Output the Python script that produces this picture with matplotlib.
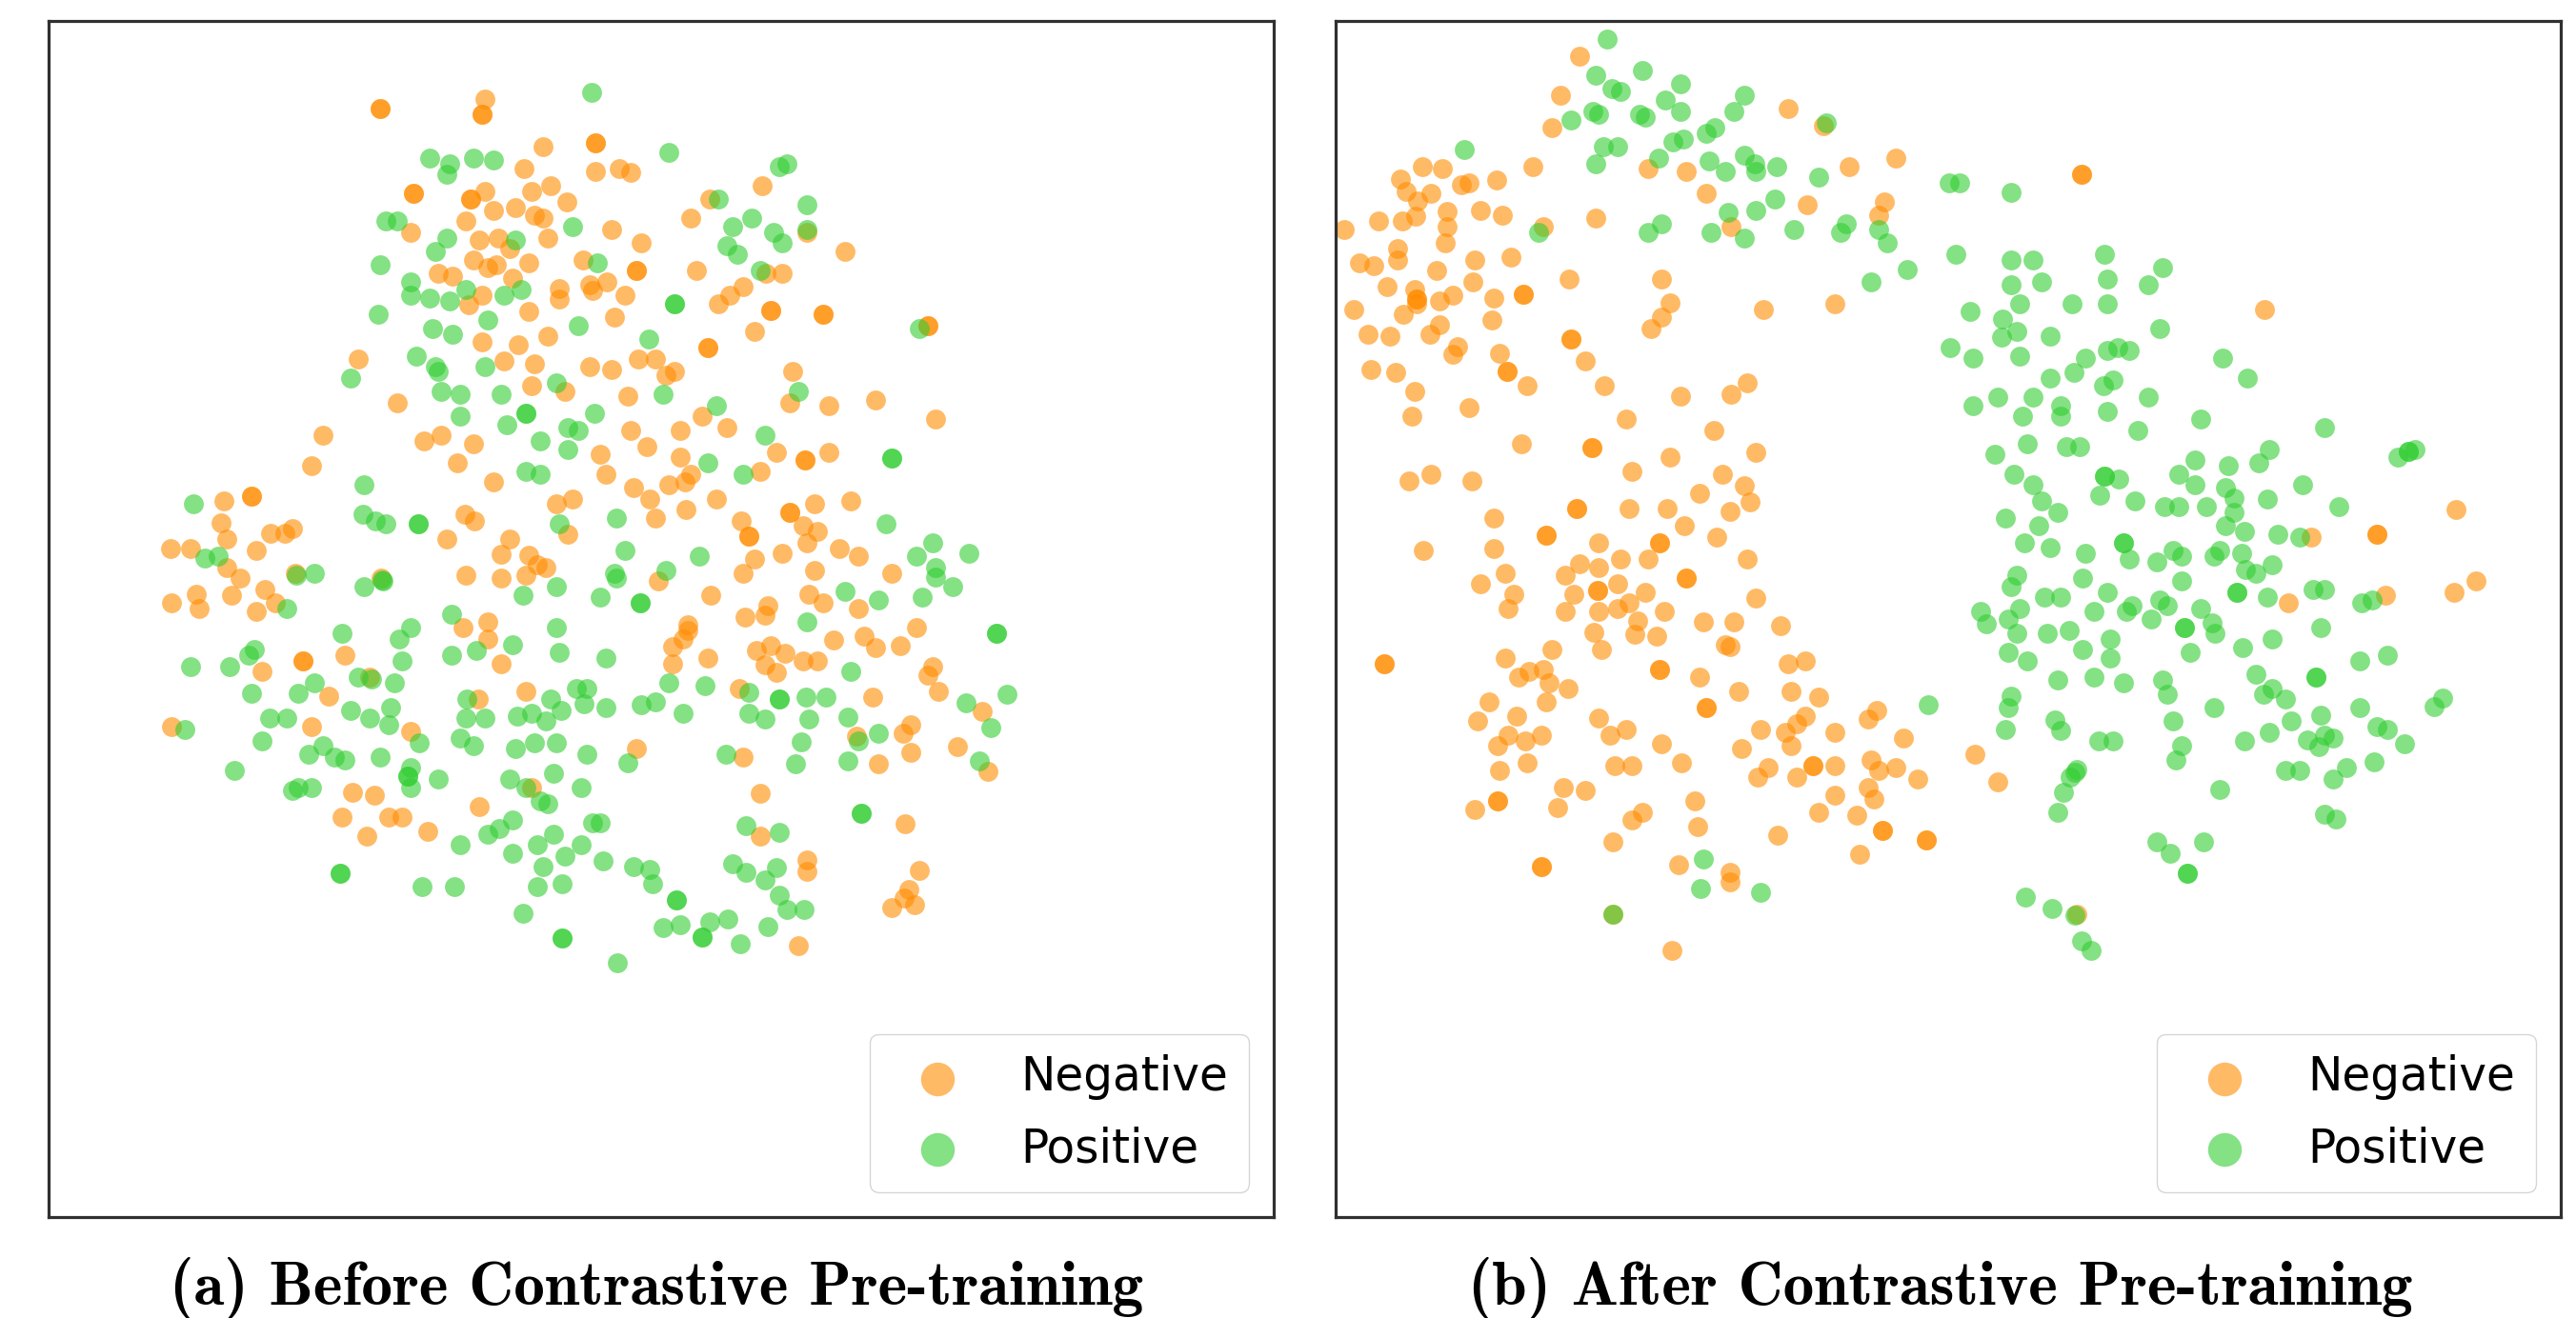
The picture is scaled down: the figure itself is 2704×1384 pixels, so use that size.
"""t-SNE style scatter, before / after contrastive pre-training.
Points were read off magnified crops, so each list is in the pixels of its crop;
to_px() brings them to a common coordinate system (full picture pixels).
"""
import numpy as np
import matplotlib
matplotlib.use("Agg")
import matplotlib.pyplot as plt

W, H = 2704, 1384
labels = ["Negative", "Positive"]
titles = ["(a) Before Contrastive Pre-training", "(b) After Contrastive Pre-training"]

# ---- panel (a), crop 1 ----
a1_neg = [(842,245),(842,245),(1107,220),(1100,260),(1100,260),(1255,351),(1386,340),(1386,340),(1205,411),(1386,418),
 (1447,410),(1476,420),(926,479),(926,479),(1072,493),(1072,493),(1107,472),(1226,472),(1273,457),(1315,501),
 (1129,525),(1185,517),(1232,538),(1255,546),(1059,554),(919,585),(1427,577),(1092,607),(1142,600),(1267,600),
 (1170,630),(1503,615),(1079,661),(1114,682),(1135,674),(1218,668),(1356,660),(1491,689),(1491,689),(989,697),
 (1024,705),(1177,712),(1415,720),(1372,728),(1380,745),(1296,740),(1296,768),(1101,757),(1065,783),(1461,757),
 (1218,803),(1435,818),(1100,886),(1191,893),(1267,870),(1156,939),(1232,946),(1372,953),(1427,961),(1496,932),
 (1540,932),(786,932),(884,1052),(1226,1006),(1310,1021),(1468,1036),(1476,1128),(995,1143),(952,1158),(1079,1165),
 (1517,1173),(1398,1195),(1036,1218),(1413,1248),(1129,1271),(1483,1285),(697,1143),(668,1226),(1288,1330),(1330,1316),
 (1525,1316),(1540,1368),(1057,1360),(1080,1376),(1316,1414),(1010,1428),(1170,1428),(1147,1468),(1218,1472),(1240,1496),
 (1262,1505),(1059,1527),(1147,1535),(1211,1527),(515,1308),(515,1308),(446,1323),(439,1383),(620,1397),(564,1412),
 (600,1412),(453,1428),(312,1452),(362,1452),(529,1458),(453,1505),(487,1535),(628,1520),(843,1535)]
a1_pos = [(1378,200),(967,381),(1017,396),(1010,427),(1079,381),(1129,388),(857,554),(884,554),(1010,600),(982,638),
 (1185,605),(1329,570),(842,675),(1392,668),(919,720),(919,758),(967,766),(1017,773),(1059,742),(1156,757),
 (1198,742),(836,811),(1114,826),(974,849),(1024,865),(1343,841),(1523,878),(933,924),(982,953),(990,968),
 (1107,953),(767,984),(1288,999),(995,1021),(1045,1029),(1148,1029),(1385,1082),(1045,1089),(1212,1082),(1212,1082),
 (1162,1113),(1316,1120),(1343,1128),(1247,1158),(1316,1180),(1212,1240),(1247,1248),(800,1278),(798,1360),(830,1376),
 (857,1385),(938,1385),(938,1385),(1296,1385),(1441,1368),(1461,1458),(1435,1520),(1440,1535),(675,1520),(630,1525),
 (369,1330),(397,1480),(432,1473),(847,1538)]

# ---- panel (a), crop 2 ----
a2_neg = [(286,457),(155,493),(108,547),(491,637),(121,690),(295,697),(335,697),(238,735),(205,757),(176,780),
 (306,800),(306,800),(437,811),(437,811),(699,841),(699,841),(266,856),(150,901),(150,901),(361,968),
 (45,976),(67,968),(353,1052),(451,1060),(568,1044),(135,1089),(718,1097),(80,1128),(197,1120),(320,1188),
 (451,1188),(392,1210),(392,1210),(80,1202),(280,1240),(108,1248),(93,1270),(52,1278),(416,1330),(505,1323),
 (170,1316),(95,1345),(353,1353),(353,1353),(232,1376),(387,1390),(423,1405),(252,1420),(252,1420),(396,1437),
 (477,1452),(526,1474),(334,1466),(266,1481),(237,1520),(416,1512),(608,1520),(397,585)]
a2_pos = [(52,365),(327,404),(347,396),(176,493),(397,509),(259,547),(211,570),(313,585),(397,578),(335,615),
 (197,622),(224,645),(280,690),(67,781),(67,781),(678,849),(375,1021),(38,1029),(170,1060),(292,1143),
 (608,1205),(608,1205),(150,1218),(238,1248),(594,1384),(711,1437),(128,1474),(670,1474),(800,1466),(718,1505),
 (718,1530),(45,1512)]

# ---- panel (a), crop 3 ----
a3_neg = [(72,99),(135,72),(142,117),(225,75),(309,57),(335,99),(288,126),(1305,30),(1438,75),(1525,143),
 (1380,168),(1380,185),(1368,213),(1340,238),(1340,292),(1430,273),(810,177),(873,158),(873,213),(907,290),
 (511,264),(405,281),(405,281),(301,315),(573,333),(470,394),(970,378),(848,402),(1511,368),(72,488),
 (427,489),(678,505),(1250,558),(1520,585),(531,697),(587,705),(985,680),(851,741),(504,773),(622,773),
 (657,773),(720,818),(567,835)]
a3_pos = [(560,47),(607,30),(1047,47),(963,75),(1158,82),(1260,99),(1260,99),(364,117),(782,135),(504,195),
 (678,177),(650,213),(1047,177),(1053,254),(782,264),(845,248),(936,230),(1172,273),(281,245),(268,265),
 (121,299),(219,299),(657,281),(545,333),(580,340),(637,350),(433,350),(274,385),(392,385),(1331,350),
 (1423,360),(1097,368),(1125,368),(1533,382),(820,402),(1117,418),(1033,402),(1060,437),(1172,428),(1262,420),
 (1298,410),(1368,447),(525,437),(573,463),(628,428),(622,482),(322,463),(364,463),(107,497),(817,463),
 (866,463),(947,456),(985,447),(1020,472),(1533,447),(301,533),(803,525),(838,548),(699,540),(943,557),
 (992,540),(1047,540),(1123,576),(1228,603),(1477,576),(456,548),(420,576),(484,585),(512,594),(601,585),
 (232,627),(678,618),(670,645),(670,645),(678,680),(748,654),(928,654),(1040,636),(970,682),(1109,680),
 (378,690),(392,682),(427,680),(1005,722),(1026,732),(936,782),(903,810),(872,827),(1138,792),(1158,792),
 (1527,800),(1040,827),(999,861),(803,861),(1109,861),(936,888),(1068,897),(1165,913),(1012,930),(1241,930),
 (1284,938),(1492,922),(1527,948),(1290,984),(499,952),(499,952),(707,992),(789,992),(999,992),(1061,984),
 (1350,1035),(1350,1035),(963,1077),(1317,1122),(1361,1113),(1436,1104),(1480,1095),(1415,1152),(1415,1152),(1513,1173),
 (1061,1155),(1061,1155),(1200,1233)]

# ---- panel (a), crop 4 ----
a4_neg = [(72,72),(65,92),(193,48),(235,65),(340,78),(267,143),(355,136),(388,160),(461,155),(510,118),
 (40,165),(80,155),(122,171),(65,195),(97,212),(177,188),(218,188),(558,200),(543,218),(574,252),
 (380,263),(703,293),(492,322),(470,340),(334,345),(630,368),(492,380),(398,404),(720,420),(50,466),
 (50,555),(477,530),(188,606),(188,630),(518,628),(486,668),(472,685),(436,705),(503,700),(162,785)]
a4_pos = [(300,42),(398,60),(526,53),(616,32),(188,106),(745,130),(745,130),(316,210),(105,268),(105,268),
 (186,263),(243,263),(776,257),(655,275),(65,310),(194,310),(308,305),(727,327),(398,340),(340,355),
 (170,357),(154,404),(308,398),(695,397),(347,508),(347,508),(105,548),(98,622),(63,647),(105,680),
 (128,710),(180,710),(73,745)]

# ---- panel (b), crop 5 ----
b5_neg = [(613,127),(565,234),(544,323),(1133,271),(1222,320),(497,430),(222,430),(270,437),(167,465),(180,498),
 (242,505),(318,482),(338,475),(406,467),(210,525),(204,567),(172,581),(111,581),(283,555),(283,595),
 (366,551),(420,565),(25,603),(278,641),(523,595),(654,573),(160,655),(160,687),(63,695),(99,702),
 (351,687),(443,680),(256,716),(784,437),(880,445),(929,505),(1285,430),(1401,407),(1181,535),(1373,527),
 (1360,565),(990,597),(586,739),(818,739),(346,747),(133,761),(203,768),(207,795),(207,795),(207,808),
 (297,783),(263,799),(400,792),(473,780),(473,780),(173,837),(50,822),(394,852),(838,806),(818,843),
 (791,875),(1072,822),(1250,808),(263,865),(241,890),(85,890),(139,897),(591,905),(591,905),(310,925),
 (296,945),(413,942),(432,992),(432,992),(627,965),(92,987),(154,995),(482,1033),(674,1033),(202,1048),
 (866,1062),(990,1055),(1031,1025),(338,1092),(195,1116),(729,1123),(948,1154),(469,1192),(643,1203),(643,1203),
 (838,1229),(1052,1214),(743,1267),(969,1274),(242,1274)]
b5_pos = [(682,82),(654,180),(770,166),(693,218),(716,226),(866,203),(1024,234),(826,248),(997,279),(866,279),
 (592,302),(647,279),(661,287),(763,287),(777,295),(1228,310),(950,323),(929,340),(846,362),(873,355),
 (325,384),(672,376),(709,376),(811,407),(654,422),(935,415),(1024,400),(976,445),(1051,422),(1052,445),
 (1106,430),(1210,460),(1100,520),(1052,551),(984,557),(818,587),(784,611),(942,611),(1023,627),(1147,603),
 (1278,587),(1264,611),(1360,603),(1381,641),(511,611),(1340,747),(1535,475),(1560,475)]
# two overlaid points right of crop 5 (full pixels)
b_extra_neg = [(2185,183),(2185,183)]

# ---- panel (b), crop 6 ----
b6_neg = [(895,326),(1374,875),(1176,943),(1176,943),(1013,950),(1423,1071),(1368,1103),(1197,1110),(956,1131)]
b6_pos = [(263,5),(126,175),(263,190),(319,190),(497,175),(641,211),(5,218),(263,258),(339,250),(503,243),
 (606,258),(285,311),(415,311),(503,311),(161,333),(243,354),(278,387),(241,402),(360,400),(634,379),
 (112,431),(168,461),(285,455),(503,439),(530,431),(558,439),(449,461),(791,461),(421,498),(360,515),
 (853,515),(518,521),(495,536),(230,566),(168,590),(318,566),(387,590),(387,619),(292,619),(503,605),
 (606,566),(579,658),(737,627),(1046,650),(305,695),(401,703),(435,703),(223,724),(908,710),(723,740),
 (881,747),(805,755),(1229,732),(1255,716),(1255,716),(1272,710),(270,778),(682,778),(497,785),(497,785),
 (532,793),(318,807),(723,807),(798,815),(990,807),(484,837),(339,853),(379,883),(572,853),(647,867),
 (681,867),(751,867),(820,845),(820,883),(902,846),(1080,867),(249,898),(332,920),(798,921),(846,935),
 (929,942),(984,950),(297,966),(545,966),(545,966),(360,981),(449,996),(667,989),(689,1004),(785,989),
 (771,1004),(839,996),(558,1012),(627,1018),(914,1026),(278,1055),(263,1087),(848,1041),(874,1050),(442,1063),
 (689,1071),(827,1102),(827,1102),(1017,1094),(1046,1094),(503,1103),(346,1117),(388,1117),(902,1117),(1165,1124),
 (1138,1132),(187,1155),(285,1146),(257,1177),(202,1188),(470,1155),(565,1139),(551,1155),(634,1124),(654,1139),
 (737,1146),(613,1177),(765,1185),(1037,1199),(278,1215),(353,1215),(408,1207),(696,1199),(696,1199),(772,1215),
 (914,1230),(511,1230),(442,1260),(840,1253),(710,1268),(256,1268),(305,1290),(511,1283),(1203,1275),(1133,1290),
 (380,1343),(470,1336),(545,1351),(641,1343),(874,1328),(1024,1335),(1024,1335),(914,1366),(893,1381),(949,1396),
 (654,1381),(263,1388),(256,1420),(771,1419),(1133,1419),(1340,1394),(1319,1417),(57,1410),(373,1453),(387,1481),
 (249,1478),(668,1456),(1037,1441),(963,1456),(1175,1470),(1203,1478),(908,1486),(1002,1508),(1045,1495),(1066,1503),
 (846,1510),(482,1510),(518,1510),(1245,1517),(689,1524),(1030,1525)]

# ---- panel (b), crop 7 ----
b7_neg = [(140,15),(298,15),(866,52),(976,30),(990,78),(558,100),(558,100),(689,100),(784,100),(352,127),
 (942,108),(827,152),(908,185),(482,180),(482,180),(613,202),(765,202),(765,202),(175,226),(352,220),
 (668,252),(737,252),(984,252),(565,268),(613,278),(380,295),(531,303),(318,327),(832,310),(832,310),
 (661,327),(610,347),(610,347),(729,353),(401,360),(551,360),(1005,370),(387,403),(531,411),(613,411),
 (661,403),(689,385),(778,411),(710,440),(703,480),(875,445),(950,445),(1066,454),(600,477),(757,487),
 (620,528),(928,512),(942,520),(497,528),(380,555),(78,572),(78,572),(765,588),(765,588),(1085,571),
 (1129,563),(440,595),(476,590),(413,612),(489,628),(866,612),(538,647),(962,655),(1092,655),(483,688),
 (339,688),(1161,672),(881,705),(881,705),(1306,713),(1285,740),(1129,730),(408,731),(613,738),(311,746),
 (1107,755),(682,772),(1018,771),(1078,780),(1202,780),(641,789),(470,789),(387,789),(429,806),(360,822),
 (771,814),(1092,822),(969,829),(1374,797),(434,873),(820,873),(654,881),(697,881),(366,897),(1037,888),
 (1010,915),(1107,915),(1147,881),(1147,881),(1202,881),(1292,865),(1312,897),(1355,888),(1285,947),(525,949),
 (580,956),(1202,972),(1299,982),(853,990),(360,990),(360,990),(511,1008),(304,1016),(723,1025),(696,1048),
 (1161,1025),(1257,1033),(859,1066),(1320,1080),(1320,1080),(1059,1092),(648,1115),(1264,1150),(470,1190),(470,1190),
 (812,1183),(942,1205),(942,1235),(797,1443),(648,1333)]
b7_pos = [(874,1166),(867,1257),(1018,1266),(648,1333)]

# ---- panel (b), crop 8 ----
b8_neg = [(163,30),(29,98),(215,105),(48,265),(48,265),(400,465)]
b8_pos = [(632,47),(401,72),(385,92),(397,80),(369,135),(356,188),(736,128),(888,75),(922,75),(1030,68),
 (1000,98),(1096,53),(979,195),(1006,208),(588,270),(620,300),(697,270),(659,356),(659,356),(280,420),
 (343,450),(397,470),(413,538),(434,565)]


def to_px(pts, x0, y0, sx, sy):
    p = np.array(pts, dtype=float)
    return np.column_stack([x0 + p[:, 0] / sx, y0 + p[:, 1] / sy])


neg_a = np.vstack([to_px(a1_neg, 50, 20, 2.412, 2.613), to_px(a2_neg, 680, 20, 2.376, 2.613),
                   to_px(a3_neg, 150, 600, 2.412, 3.0), to_px(a4_neg, 780, 600, 2.8, 2.0)])
pos_a = np.vstack([to_px(a1_pos, 50, 20, 2.412, 2.613), to_px(a2_pos, 680, 20, 2.376, 2.613),
                   to_px(a3_pos, 150, 600, 2.412, 3.0), to_px(a4_pos, 780, 600, 2.8, 2.0)])
neg_b = np.vstack([to_px(b5_neg, 1400, 10, 2.376, 2.613), to_px(b6_neg, 2000, 200, 2.376, 2.613),
                   to_px(b7_neg, 1420, 500, 2.376, 2.9), to_px(b8_neg, 2000, 780, 2.227, 2.59),
                   np.array(b_extra_neg, dtype=float)])
pos_b = np.vstack([to_px(b5_pos, 1400, 10, 2.376, 2.613), to_px(b6_pos, 2000, 200, 2.376, 2.613),
                   to_px(b7_pos, 1420, 500, 2.376, 2.9), to_px(b8_pos, 2000, 780, 2.227, 2.59)])

fig = plt.figure(figsize=(W / 100, H / 100), dpi=100)
boxes = [(51, 22, 1337, 1278), (1402, 22, 2688, 1278)]
centers = [689, 2037]
corners = [(1311, 1252), (2662, 1252)]  # legend lower right
for box, neg, pos, title, cx, corner in zip(boxes, [neg_a, neg_b], [pos_a, pos_b], titles, centers, corners):
    l, t, r, b = box
    ax = fig.add_axes([l / W, 1 - b / H, (r - l) / W, (b - t) / H])
    ax.scatter(neg[:, 0], neg[:, 1], s=225, c="darkorange", alpha=0.6, linewidths=0, label=labels[0])
    ax.scatter(pos[:, 0], pos[:, 1], s=225, c="limegreen", alpha=0.6, linewidths=0, label=labels[1])
    ax.set_xlim(l, r); ax.set_ylim(b, t)
    ax.set_xticks([]); ax.set_yticks([])
    for s in ax.spines.values():
        s.set_linewidth(2.3); s.set_color("#303030")
    ax.legend(loc="lower right", bbox_to_anchor=corner, bbox_transform=ax.transData, fontsize=35,
              markerscale=1.7, borderaxespad=0, handletextpad=0.8, labelspacing=0.55, borderpad=0.45,
              edgecolor="#cccccc")
    fig.text(cx / W, 1 - 1370 / H, title, family="cmb10", fontsize=47, ha="center", va="baseline")

fig.savefig("out.png", dpi=100)
